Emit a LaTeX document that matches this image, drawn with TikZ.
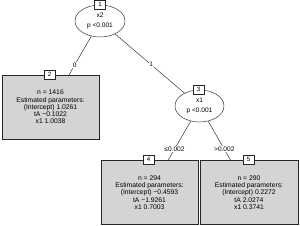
\documentclass[tikz,border=0pt]{standalone}
\usepackage{fontspec}
\setmainfont{Liberation Sans}
\usetikzlibrary{shapes.geometric}
\begin{document}
\begin{tikzpicture}[x=1bp,y=1bp,
  inner/.style={ellipse,draw=black!85,line width=0.45bp,minimum width=50bp,minimum height=32bp,inner sep=0pt,align=center,
    font=\fontsize{6.6}{10}\selectfont},
  leaf/.style={rectangle,draw=black!85,fill=black!17,line width=0.45bp,minimum width=97bp,minimum height=64bp,inner sep=0pt,align=center,
    font=\fontsize{6.8}{7.3}\selectfont},
  idbox/.style={rectangle,draw=black!85,fill=white,line width=0.45bp,minimum width=11bp,minimum height=8.5bp,inner sep=0pt,
    font=\fontsize{6.2}{7}\selectfont},
  edge/.style={draw=black!85,line width=0.45bp},
  elab/.style={fill=white,inner sep=0.6bp,font=\fontsize{6.6}{7}\selectfont}]
\useasboundingbox (0,0) rectangle (300,226);
\node[inner] (n1) at (100,205) {x2\\p <0.001};
\node[leaf] (n2) at (50.5,119) {n = 1416\\Estimated parameters:\\(Intercept) 1.0261\\tA −0.1022\\x1 1.0038};
\node[inner,minimum width=49bp] (n3) at (199.5,120) {x1\\p <0.001};
\node[leaf] (n4) at (149.5,33.5) {n = 294\\Estimated parameters:\\(Intercept) −0.4593\\tA −1.9261\\x1 0.7003};
\node[leaf,minimum width=98bp] (n5) at (249,33.5) {n = 290\\Estimated parameters:\\(Intercept) 0.2272\\tA 2.0274\\x1 0.3741};
\draw[edge] (n1) -- node[elab,pos=0.74] {0} (n2);
\draw[edge] (n1) -- node[elab,pos=0.52] {1} (n3);
\draw[edge] (n3) -- node[elab,pos=0.72] {≤0.002} (n4);
\draw[edge] (n3) -- node[elab,pos=0.72] {>0.002} (n5);
\node[idbox] (i1) at (n1.north) {1};
\node[idbox] (i2) at ([xshift=-1bp]n2.north) {2};
\node[idbox] (i3) at ([xshift=-1bp]n3.north) {3};
\node[idbox] (i4) at ([xshift=-1bp,yshift=0.5bp]n4.north) {4};
\node[idbox] (i5) at ([xshift=-0.5bp,yshift=0.5bp]n5.north) {5};
\end{tikzpicture}
\end{document}
